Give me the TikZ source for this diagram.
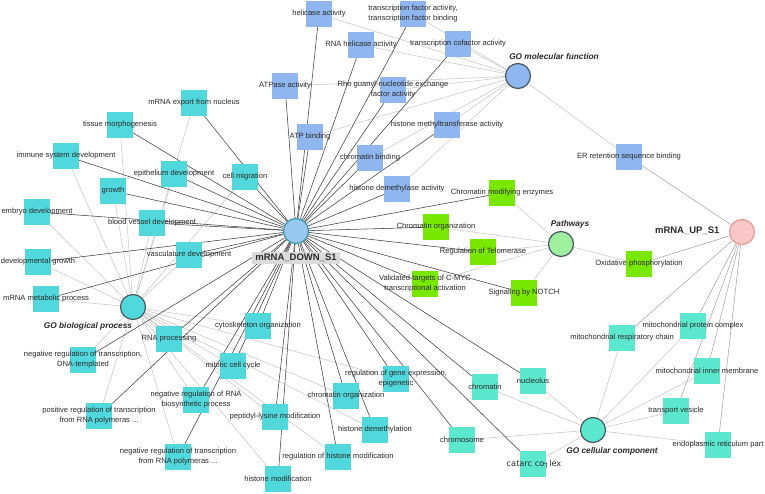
\documentclass[tikz,border=0pt]{standalone}
\usepackage{fontspec}
\setmainfont{Liberation Sans}
\newfontfamily\dejavu{DejaVu Sans}
\usepackage{xcolor}
\usepackage{tikz}
\usetikzlibrary{backgrounds}
\pgfdeclarelayer{foreground}
\pgfsetlayers{background,main,foreground}
\definecolor{MolBlue}{HTML}{8FB6EE}
\definecolor{ProcTeal}{HTML}{50D8DC}
\definecolor{CellMint}{HTML}{5CE8CE}
\definecolor{PathGreen}{HTML}{78E800}
\definecolor{PathHub}{HTML}{9EF09E}
\definecolor{DownBlue}{HTML}{96C8F0}
\definecolor{DownRim}{HTML}{3A95A8}
\definecolor{UpPink}{HTML}{F8C8C8}
\definecolor{UpRim}{HTML}{E89A9A}
\definecolor{HubRim}{HTML}{46585E}
\definecolor{TextDark}{HTML}{2A2A2A}
\definecolor{EdgeDark}{HTML}{404040}
\definecolor{EdgeLight}{HTML}{C4C4C4}
\definecolor{EdgeMid}{HTML}{A0A0A0}

\tikzset{
  termbox/.style={rectangle, minimum size=26pt, inner sep=0pt},
  termtext/.style={text=TextDark, align=center, inner sep=0pt,
    font=\fontsize{7.6}{10}\selectfont},
  hub/.style={circle, minimum size=25pt, inner sep=0pt, line width=1.2pt, draw=HubRim},
  hubtext/.style={text=TextDark, font=\fontsize{8.3}{10}\selectfont\bfseries\itshape},
  downedge/.style={EdgeDark, line width=0.55pt},
  catedge/.style={EdgeLight, line width=0.5pt},
  upedge/.style={EdgeMid, line width=0.5pt}
}

\begin{document}
\begin{tikzpicture}[x=1pt, y=-1pt]
\useasboundingbox (0,0) rectangle (765,494);

% hubs
\node[hub, fill=DownBlue, draw=DownRim] (down) at (296,231) {};
\node[fill=black!14, text=TextDark, inner xsep=3pt, inner ysep=2pt,
  font=\fontsize{9.5}{11}\selectfont\bfseries] at (296,258) {mRNA\_DOWN\_S1};
\node[hub, fill=UpPink, draw=UpRim] (up) at (742,232) {};
\node[anchor=east, text=TextDark, font=\fontsize{9.5}{11}\selectfont\bfseries]
  at (723,231) {mRNA\_UP\_S1};
\node[hub, fill=MolBlue] (mf) at (518,76) {};
\node[hubtext] at (554,57) {GO molecular function};
\node[hub, fill=PathHub] (path) at (561,244) {};
\node[hubtext] at (570,224) {Pathways};
\node[hub, fill=ProcTeal] (bp) at (133,307) {};
\node[hubtext] at (88,326) {GO biological process};
\node[hub, fill=CellMint] (cc) at (593,430) {};
\node[hubtext] at (612,451) {GO cellular component};

% molecular function
\foreach \n/\x/\y/\lbl in {
  hel/319/14/helicase activity,
  tfa/413/14/{transcription factor activity,\\transcription factor binding},
  rnahel/361/45/RNA helicase activity,
  tcof/458/44/transcription cofactor activity,
  atpase/285/86/ATPase activity,
  rho/393/90/{Rho guanyl-nucleotide exchange\\factor activity},
  atpb/310/137/ATP binding,
  hmt/447/125/histone methyltransferase activity,
  chrb/370/158/chromatin binding,
  hdm/397/189/histone demethylase activity,
  err/629/157/ER retention sequence binding%
  }{
  \node[termbox, fill=MolBlue] (\n) at (\x,\y) {};
  \begin{pgfonlayer}{foreground}
    \node[termtext] at (\n) {\lbl};
  \end{pgfonlayer}
  }

% pathways
\foreach \n/\x/\y/\lbl in {
  cme/502/193/Chromatin modifying enzymes,
  corg/436/227/Chromatin organization,
  telo/483/252/Regulation of Telomerase,
  myc/425/284/{Validated targets of C-MYC\\transcriptional activation},
  notch/524/293/Signaling by NOTCH,
  oxph/639/264/Oxidative phosphorylation%
  }{
  \node[termbox, fill=PathGreen] (\n) at (\x,\y) {};
  \begin{pgfonlayer}{foreground}
    \node[termtext] at (\n) {\lbl};
  \end{pgfonlayer}
  }

% cellular component
\foreach \n/\x/\y/\lbl in {
  mpc/693/326/mitochondrial protein complex,
  mrc/622/338/mitochondrial respiratory chain,
  mim/707/371/mitochondrial inner membrane,
  tves/676/411/transport vesicle,
  erp/718/445/endoplasmic reticulum part,
  nucl/533/381/nucleolus,
  chrm/485/387/chromatin,
  chrs/462/440/chromosome%
  }{
  \node[termbox, fill=CellMint] (\n) at (\x,\y) {};
  \begin{pgfonlayer}{foreground}
    \node[termtext] at (\n) {\lbl};
  \end{pgfonlayer}
  }
\node[termbox, fill=CellMint] (catc) at (533,464) {};
\begin{pgfonlayer}{foreground}
  \node[text=TextDark, inner sep=0pt, font=\dejavu\fontsize{8.2}{10}\selectfont]
    at (534,464) {catarc co┐lex};
\end{pgfonlayer}

% biological process
\foreach \n/\x/\y/\lbl in {
  mexp/194/103/mRNA export from nucleus,
  tmor/120/125/tissue morphogenesis,
  imm/66/156/immune system development,
  epi/174/174/epithelium development,
  cmig/245/177/cell migration,
  grow/113/191/growth,
  emb/37/212/embryo development,
  bvd/152/223/blood vessel development,
  vasc/189/255/vasculature development,
  devg/38/262/developmental growth,
  mmet/46/299/mRNA metabolic process,
  rnap/169/339/RNA processing,
  cyto/258/326/cytoskeleton organization,
  nrdna/83/360/{negative regulation of transcription,\\DNA-templated},
  mcc/233/366/mitotic cell cycle,
  nrrna/196/400/{negative regulation of RNA\\biosynthetic process},
  prpol/99/416/{positive regulation of transcription\\from RNA polymeras ...},
  pkm/275/417/peptidyl-lysine modification,
  corgb/346/396/chromatin organization,
  rge/396/379/{regulation of gene expression,\\epigenetic},
  hdem/375/430/histone demethylation,
  rhm/338/457/regulation of histone modification,
  hmod/278/479/histone modification,
  nrpol/178/457/{negative regulation of transcription\\from RNA polymeras ...}%
  }{
  \node[termbox, fill=ProcTeal] (\n) at (\x,\y) {};
  \begin{pgfonlayer}{foreground}
    \node[termtext] at (\n) {\lbl};
  \end{pgfonlayer}
  }

\begin{scope}[on background layer]
  \fill[white] (0,0) rectangle (765,494);
  \foreach \t in {hel,tfa,rnahel,tcof,atpase,rho,atpb,hmt,chrb,hdm,err}
    \draw[catedge] (mf) -- (\t);
  \foreach \t in {cme,corg,telo,myc,notch,oxph}
    \draw[catedge] (path) -- (\t);
  \foreach \t in {mpc,mrc,mim,tves,erp,nucl,chrm,chrs,catc}
    \draw[catedge] (cc) -- (\t);
  \foreach \t in {mexp,tmor,imm,epi,cmig,grow,emb,bvd,vasc,devg,mmet,rnap,cyto,
      nrdna,mcc,nrrna,prpol,pkm,corgb,rge,hdem,rhm,hmod,nrpol}
    \draw[catedge] (bp) -- (\t);
  \foreach \t in {err,oxph,mpc,mrc,mim,tves,erp}
    \draw[upedge] (up) -- (\t);
  \foreach \t in {hel,tfa,rnahel,tcof,atpase,rho,atpb,hmt,chrb,hdm,
      cme,corg,telo,myc,notch,nucl,chrm,chrs,catc,
      mexp,tmor,imm,epi,cmig,grow,emb,bvd,vasc,devg,mmet,rnap,cyto,
      nrdna,mcc,nrrna,prpol,pkm,corgb,rge,hdem,rhm,hmod,nrpol}
    \draw[downedge] (down) -- (\t);
\end{scope}
\end{tikzpicture}
\end{document}
